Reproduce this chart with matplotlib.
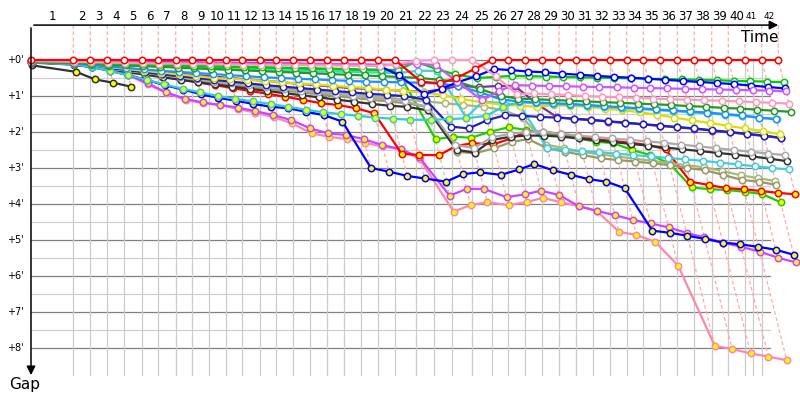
import matplotlib
matplotlib.use('Agg')
import matplotlib.pyplot as plt

# leader's race time at the end of each lap (lap 0 = start), x units of the chart
leader_t = [31, 73.3, 90.3, 107.3, 124.3, 141.7, 158.3, 175.7, 192.3, 209,
            225.7, 242.3, 259.7, 276.3, 293.3, 310, 327, 344, 361, 378.3,
            395, 415.7, 434.3, 451.7, 472.3, 491.7, 508.3, 525.3, 542.3, 559,
            576, 592.7, 609.7, 626.7, 643.3, 660, 677.3, 694.3, 711.7, 728.3,
            745, 761.7, 778.3]
# lap grid lines / labels
lap_marks = [73.3, 90.3, 107.3, 124.3, 141.7, 158.3, 175.7, 192.3, 209, 225.7,
             242.3, 259.7, 276.3, 293.3, 310, 327, 344, 361, 378.3, 395,
             415.7, 434.3, 451.7, 472.3, 491.7, 508.3, 525.3, 542.3, 559, 576,
             592.7, 609.7, 626.7, 643.3, 660, 677.3, 694.3, 711.7, 728.3, 745,
             753.3, 761.7]
lap_labels = [str(i) for i in range(1, 43)]
gap_ticks = [0, 1, 2, 3, 4, 5, 6, 7, 8]

# gap to leader in minutes, one value per completed lap
red_gap = [0, 0, 0, 0, 0, 0, 0, 0, 0, 0,
           0, 0, 0, 0, 0, 0, 0, 0, 0, 0,
           0, 0.6, 0.65, 0.5, 0.25, 0, 0, 0, 0, 0,
           0, 0, 0, 0, 0, 0, 0, 0, 0, 0,
           0, 0, 0]
pink_gap = [0.03, 0.05, 0.06, 0.07, 0.08, 0.09, 0.10, 0.10, 0.11, 0.12,
            0.12, 0.13, 0.13, 0.14, 0.14, 0.15, 0.15, 0.16, 0.16, 0.17,
            0.12, 0.02, 0.0, 0.0, 0.0, 0.45, 0.95, 0.93, 0.95, 0.97,
            1.0, 1.02, 1.04, 1.05, 1.07, 1.09, 1.1, 1.12, 1.13, 1.15,
            1.17, 1.19, 1.21]
purple_gap = [0.02, 0.03, 0.04, 0.05, 0.05, 0.06, 0.07, 0.07, 0.08, 0.08,
              0.09, 0.09, 0.10, 0.10, 0.11, 0.11, 0.11, 0.12, 0.12, 0.13,
              0.13, 0.10, 0.14, 0.6, 1.12, 0.85, 0.7, 0.71, 0.72, 0.73,
              0.74, 0.75, 0.76, 0.77, 0.78, 0.79, 0.8, 0.81, 0.82, 0.83,
              0.84, 0.85, 0.87]
blue_gap = [0.02, 0.03, 0.04, 0.04, 0.05, 0.06, 0.06, 0.07, 0.07, 0.08,
            0.08, 0.09, 0.09, 0.10, 0.10, 0.11, 0.11, 0.13, 0.15, 0.17,
            0.42, 0.95, 0.8, 0.62, 0.45, 0.25, 0.28, 0.32, 0.34, 0.38,
            0.41, 0.44, 0.47, 0.49, 0.52, 0.55, 0.58, 0.61, 0.64, 0.67,
            0.71, 0.75, 0.79]
lime_gap = [0.04, 0.06, 0.08, 0.1, 0.11, 0.12, 0.13, 0.15, 0.16, 0.17,
            0.18, 0.19, 0.2, 0.21, 0.22, 0.23, 0.24, 0.25, 0.26, 0.27,
            0.28, 0.05, 0.25, 0.4, 0.5, 0.47, 0.44, 0.45, 0.46, 0.47,
            0.48, 0.49, 0.5, 0.51, 0.52, 0.53, 0.54, 0.55, 0.56, 0.58,
            0.59, 0.6, 0.62]
forest_gap = [0.05, 0.08, 0.1, 0.13, 0.15, 0.17, 0.19, 0.21, 0.23, 0.25,
              0.27, 0.29, 0.31, 0.33, 0.35, 0.37, 0.39, 0.41, 0.43, 0.45,
              0.47, 0.5, 0.55, 0.6, 0.8, 1.0, 1.07, 1.09, 1.11, 1.13,
              1.15, 1.17, 1.19, 1.21, 1.23, 1.25, 1.28, 1.3, 1.33, 1.35,
              1.38, 1.41, 1.44]
dodger_gap = [0.06, 0.1, 0.14, 0.18, 0.22, 0.26, 0.3, 0.33, 0.36, 0.39,
              0.42, 0.45, 0.48, 0.5, 0.52, 0.54, 0.56, 0.58, 0.6, 0.61,
              0.62, 0.63, 0.66, 0.72, 0.9, 1.1, 1.15, 1.18, 1.2, 1.22,
              1.25, 1.28, 1.31, 1.34, 1.37, 1.4, 1.43, 1.46, 1.5, 1.54,
              1.6, 1.64]
cyan_y_gap = [0.05, 0.12, 0.2, 0.3, 0.42, 0.55, 0.68, 0.8, 0.9, 1.0,
              1.08, 1.15, 1.22, 1.3, 1.38, 1.45, 1.5, 1.55, 1.6, 1.63,
              1.66, 1.66, 1.64, 1.62, 1.55, 1.3, 1.17, 1.2, 1.22, 1.24,
              1.27, 1.3, 1.33, 1.36, 1.39, 1.42, 1.45, 1.48, 1.52, 1.56,
              1.6, 1.65]
yellow_gap = [0.05, 0.1, 0.15, 0.2, 0.25, 0.3, 0.35, 0.4, 0.45, 0.5,
              0.52, 0.55, 0.58, 0.62, 0.65, 0.68, 0.72, 0.75, 0.78, 0.82,
              0.85, 0.9, 0.98, 1.08, 1.18, 1.24, 1.27, 1.3, 1.26, 1.27,
              1.3, 1.35, 1.39, 1.45, 1.52, 1.6, 1.68, 1.75, 1.83, 1.9,
              1.98, 2.06]
navy_gap = [0.05, 0.1, 0.16, 0.22, 0.28, 0.34, 0.4, 0.45, 0.5, 0.55,
            0.6, 0.65, 0.7, 0.74, 0.78, 0.82, 0.86, 0.9, 0.94, 0.97,
            1.0, 1.1, 1.85, 1.9, 1.67, 1.53, 1.55, 1.58, 1.6, 1.63,
            1.66, 1.7, 1.74, 1.78, 1.82, 1.86, 1.9, 1.95, 2.0, 2.05,
            2.1, 2.16]
dpurple_gap = [0.04, 0.08, 0.13, 0.18, 0.23, 0.28, 0.33, 0.38, 0.42, 0.46,
               0.5, 0.54, 0.58, 0.62, 0.66, 0.7, 0.74, 0.78, 0.8, 0.83,
               0.85, 0.88, 0.82, 0.72, 0.75, 0.72, 0.72, 1.2, 1.58, 1.64,
               1.67, 1.71, 1.75, 1.79, 1.83, 1.87, 1.91, 1.96, 2.01, 2.06,
               2.11, 2.17]
gray_gap = [0.06, 0.12, 0.18, 0.24, 0.3, 0.36, 0.42, 0.48, 0.54, 0.6,
            0.65, 0.7, 0.75, 0.8, 0.85, 0.9, 0.95, 1.0, 1.05, 1.1,
            1.15, 1.3, 2.35, 2.45, 2.15, 2.05, 2.0, 2.0, 2.05, 2.1,
            2.14, 2.18, 2.22, 2.26, 2.3, 2.35, 2.4, 2.45, 2.5, 2.55,
            2.6, 2.64]
black_gap = [0.07, 0.13, 0.2, 0.27, 0.34, 0.41, 0.48, 0.55, 0.62, 0.68,
             0.74, 0.8, 0.86, 0.92, 0.98, 1.04, 1.1, 1.16, 1.22, 1.27,
             1.3, 1.4, 2.5, 2.57, 2.22, 2.13, 2.1, 2.1, 2.13, 2.18,
             2.23, 2.28, 2.33, 2.38, 2.43, 2.48, 2.53, 2.58, 2.63, 2.68,
             2.74, 2.81]
cyan_w_gap = [0.03, 0.06, 0.09, 0.12, 0.14, 0.16, 0.18, 0.2, 0.22, 0.24,
              0.26, 0.27, 0.28, 0.29, 0.3, 0.31, 0.32, 0.33, 0.34, 0.35,
              0.36, 0.3, 0.3, 1.6, 1.15, 1.2, 1.25, 2.45, 2.5, 2.53,
              2.56, 2.6, 2.64, 2.68, 2.72, 2.76, 2.8, 2.85, 2.9, 2.95,
              3.0, 3.04]
olive_gap = [0.06, 0.12, 0.18, 0.25, 0.32, 0.39, 0.46, 0.52, 0.58, 0.64,
             0.7, 0.75, 0.8, 0.85, 0.9, 0.95, 1.0, 1.05, 1.1, 1.15,
             1.2, 1.3, 2.55, 2.59, 2.45, 2.27, 2.2, 2.45, 2.55, 2.64,
             2.73, 2.78, 2.82, 2.87, 2.92, 3.0, 3.06, 3.19, 3.33, 3.38,
             3.47]
olive2_gap = [0.05, 0.1, 0.16, 0.22, 0.28, 0.34, 0.4, 0.46, 0.51, 0.56,
              0.61, 0.66, 0.71, 0.76, 0.8, 0.85, 0.9, 0.95, 1.0, 1.05,
              1.1, 1.15, 1.2, 1.25, 1.3, 1.4, 1.6, 2.35, 2.45, 2.55,
              2.62, 2.68, 2.74, 2.8, 2.86, 2.92, 2.98, 3.08, 3.2, 3.28,
              3.36]
red2_gap = [0.05, 0.1, 0.16, 0.22, 0.3, 0.38, 0.46, 0.54, 0.62, 0.7,
            0.78, 0.86, 0.94, 1.02, 1.11, 1.2, 1.25, 1.34, 1.48, 2.6,
            2.64, 2.64, 2.39, 2.31, 2.34, 2.18, 1.99, 1.99, 2.06, 2.11,
            2.2, 2.25, 2.3, 2.36, 2.48, 3.38, 3.47, 3.56, 3.59, 3.64,
            3.69, 3.73]
lime2_gap = [0.04, 0.06, 0.08, 0.1, 0.12, 0.14, 0.15, 0.17, 0.18, 0.19,
             0.2, 0.21, 0.22, 0.23, 0.24, 0.25, 0.26, 0.27, 0.28, 0.29,
             0.3, 2.2, 2.13, 2.16, 1.99, 1.87, 1.94, 2.04, 2.08, 2.18,
             2.27, 2.31, 2.5, 2.64, 2.87, 3.54, 3.59, 3.61, 3.66, 3.72,
             3.95]
blue2_gap = [0.06, 0.12, 0.2, 0.3, 0.42, 0.55, 0.7, 0.82, 0.95, 1.05,
             1.13, 1.22, 1.3, 1.34, 1.44, 1.53, 1.71, 3.0, 3.1, 3.22,
             3.29, 3.38, 3.17, 3.12, 3.19, 3.04, 2.89, 3.06, 3.19, 3.31,
             3.38, 3.56, 4.74, 4.8, 4.88, 4.97, 5.07, 5.12, 5.19, 5.27,
             5.41]
magenta2_gap = [0.05, 0.1, 0.17, 0.25, 0.4, 0.65, 0.9, 1.08, 1.18, 1.25,
                1.32, 1.42, 1.53, 1.67, 1.9, 2.04, 2.08, 2.2, 2.36, 2.48,
                2.7, 3.77, 3.58, 3.58, 3.81, 3.73, 3.63, 3.75, 4.06, 4.19,
                4.31, 4.44, 4.54, 4.65, 4.8, 4.93, 5.07, 5.19, 5.32, 5.49,
                5.62]
pink2_gap = [0.05, 0.1, 0.17, 0.25, 0.42, 0.68, 0.92, 1.11, 1.2, 1.25,
             1.36, 1.46, 1.59, 1.76, 2.04, 2.13, 2.2, 2.3, 2.4, 2.48,
             2.75, 4.21, 4.03, 3.95, 4.03, 3.94, 3.83, 3.95, 4.06, 4.19,
             4.77, 4.86, 5.05, 5.71, 7.94, 8.03, 8.15, 8.24, 8.34]
black2_gap = [0.15, 0.33, 0.54, 0.63, 0.74]

# drawing table: (gaps, line colour, marker fill)
cars = [
    (red_gap, '#ff0000', 'white'),
    (pink_gap, '#ff99bb', 'white'),
    (purple_gap, '#cc55ff', 'white'),
    (blue_gap, '#0000ff', 'white'),
    (lime_gap, '#00cc00', 'white'),
    (forest_gap, '#229922', 'white'),
    (dodger_gap, '#1e90ff', 'white'),
    (cyan_y_gap, '#33cccc', 'yellow'),
    (yellow_gap, '#dddd00', 'white'),
    (navy_gap, '#2222bb', 'white'),
    (dpurple_gap, '#7a30a8', 'white'),
    (gray_gap, '#aaaaaa', 'white'),
    (black_gap, '#333333', 'white'),
    (cyan_w_gap, '#44ccdd', 'white'),
    (olive_gap, '#999966', 'white'),
    (olive2_gap, '#aab877', 'white'),
    (red2_gap, '#ff0000', 'yellow'),
    (lime2_gap, '#22cc00', 'yellow'),
    (blue2_gap, '#0000ff', 'yellow'),
    (magenta2_gap, '#cc44ff', 'yellow'),
    (pink2_gap, '#ff88aa', 'yellow'),
    (black2_gap, '#333333', 'yellow'),
]

LAG = 9.0          # time axis drift per minute of gap
TOP = -0.97        # level of the time axis
BOTTOM = 8.75

fig = plt.figure(figsize=(8, 4), dpi=100)
ax = fig.add_axes([0, 0, 1, 1])
ax.set_xlim(0, 800)
ax.set_ylim(9.444, -1.667)
ax.axis('off')

# grid
for k in range(0, 17):
    g = k / 2
    major = k % 2 == 0
    ax.plot([31, 770], [g, g], color='#808080' if major else '#d0d0d0', lw=0.9, zorder=1)
for xm in lap_marks:
    ax.plot([xm, xm], [0, BOTTOM], color='#cccccc', lw=0.9, zorder=1)

# lap lines
def car_x(gaps, n):
    return leader_t[n] + LAG * gaps[n]

for n in range(1, 43):
    pts = sorted((gaps[n], car_x(gaps, n)) for gaps, _, _ in cars if len(gaps) > n)
    ys = [TOP] + [p[0] for p in pts]
    xs = [leader_t[n]] + [p[1] for p in pts]
    col = '#aaddaa' if n == 21 else '#ffaaaa'
    ax.plot(xs, ys, color=col, lw=0.9, ls=(0, (3, 2)), zorder=2)

# cars
for gaps, col, fill in reversed(cars):
    xs = [car_x(gaps, n) for n in range(len(gaps))]
    ax.plot(xs, gaps, '-o', color=col, lw=1.6, ms=4.6, mfc=fill, mec=col,
            mew=1.1, zorder=3)

# axes arrows
ax.annotate('', xy=(781, TOP), xytext=(31, TOP),
            arrowprops=dict(arrowstyle='-|>', color='k', lw=1.1, mutation_scale=13))
ax.annotate('', xy=(31, 8.83), xytext=(31, TOP),
            arrowprops=dict(arrowstyle='-|>', color='k', lw=1.1, mutation_scale=13))
ax.text(760, -0.62, 'Time', ha='center', va='center', fontsize=11)
ax.text(25, 9.0, 'Gap', ha='center', va='center', fontsize=11)

# lap labels (the last two laps are squeezed together, as on the original)
prev = leader_t[0]
for i, (xm, lab) in enumerate(zip(lap_marks, lap_labels)):
    if i == len(lap_marks) - 2:
        ax.text(prev + 0.5, -1.2, lab, ha='left', va='center', fontsize=6.5)
    elif i == len(lap_marks) - 1:
        ax.text(xm + 1.5, -1.2, lab, ha='left', va='center', fontsize=6.5)
    else:
        ax.text((prev + xm) / 2, -1.2, lab, ha='center', va='center', fontsize=8.5)
    prev = xm

for g in gap_ticks:
    ax.text(15, g, "+%d'" % g, ha='center', va='center', fontsize=7)

fig.savefig('out.png', dpi=100)
